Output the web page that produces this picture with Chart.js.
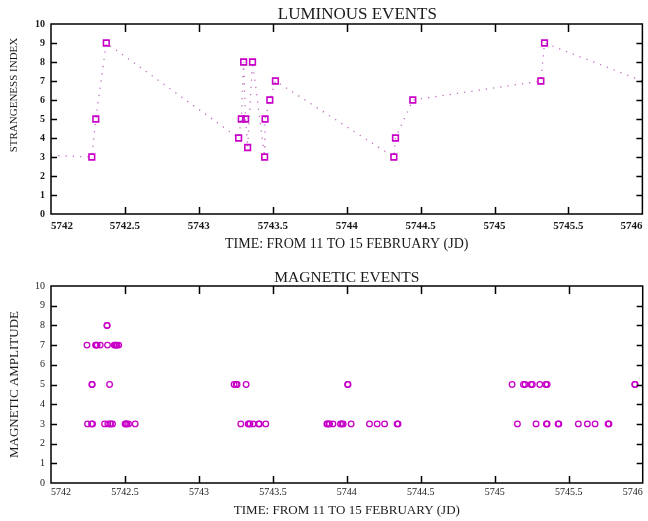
<!DOCTYPE html>
<html>
<head>
<meta charset="utf-8">
<script src="https://cdn.jsdelivr.net/npm/chart.js@4.4.1/dist/chart.umd.min.js"></script>
<style>
  html, body { margin: 0; padding: 0; background: #fff; }
  canvas { position: absolute; left: 0; }
  #lum { top: 0; }
  #mag { top: 262px; }
</style>
</head>
<body>
<canvas id="lum" width="648" height="262"></canvas>
<canvas id="mag" width="648" height="259"></canvas>
<script>
// luminous events (line runs in time order, first/last points sit just off the axis range)
const lumTimes = [5741.95, 5742.276, 5742.303, 5742.374, 5743.269, 5743.287, 5743.303, 5743.316, 5743.330, 5743.363,
  5743.445, 5743.448, 5743.480, 5743.518, 5744.319, 5744.330, 5744.447, 5745.313, 5745.338, 5746.05];
const lumIndex = [3.1, 3, 5, 9, 4, 5, 8, 5, 3.5, 8, 3, 5, 6, 7, 3, 4, 6, 7, 9, 6.85];

// magnetic events
const magTimes = [
  5742.378, 5742.380,
  5742.243, 5742.301, 5742.306, 5742.312, 5742.333, 5742.382, 5742.427, 5742.434, 5742.440, 5742.447, 5742.458,
  5742.276, 5742.279, 5742.396, 5743.238, 5743.252, 5743.258, 5743.319, 5744.005, 5744.008, 5745.117, 5745.194,
  5745.205, 5745.245, 5745.254, 5745.304, 5745.345, 5745.354, 5745.946, 5745.949,
  5742.247, 5742.274, 5742.281, 5742.362, 5742.384, 5742.400, 5742.404, 5742.416, 5742.501, 5742.507, 5742.512,
  5742.524, 5742.569, 5743.283, 5743.333, 5743.337, 5743.345, 5743.366, 5743.404, 5743.409, 5743.452, 5743.865,
  5743.869, 5743.879, 5743.883, 5743.906, 5743.957, 5743.966, 5743.975, 5744.029, 5744.153, 5744.205, 5744.255,
  5744.340, 5744.346, 5745.153, 5745.279, 5745.349, 5745.354, 5745.428, 5745.433, 5745.565, 5745.626, 5745.678,
  5745.766, 5745.772
];
const magAmps = [
  8, 8,
  7, 7, 7, 7, 7, 7, 7, 7, 7, 7, 7,
  5, 5, 5, 5, 5, 5, 5, 5, 5, 5, 5,
  5, 5, 5, 5, 5, 5, 5, 5,
  3, 3, 3, 3, 3, 3, 3, 3, 3, 3, 3,
  3, 3, 3, 3, 3, 3, 3, 3, 3, 3, 3,
  3, 3, 3, 3, 3, 3, 3, 3, 3, 3, 3,
  3, 3, 3, 3, 3, 3, 3, 3, 3, 3, 3,
  3, 3
];

const xTitle = 'TIME: FROM 11 TO 15 FEBRUARY (JD)';
const SERIF = "'Liberation Serif', 'Times New Roman', serif";
const MAGENTA = '#c800c8';
const TEXT = '#1a1a1a';

// gnuplot-like frame with tick marks pointing inward
const innerTicks = {
  id: 'innerTicks',
  afterDatasetsDraw(chart, args, opts) {
    const { ctx, chartArea: a, scales: { x, y } } = chart;
    ctx.save();
    ctx.strokeStyle = '#000';
    ctx.lineWidth = 1.5;
    ctx.beginPath();
    x.ticks.forEach(t => {
      if (t.value <= x.min || t.value >= x.max) return;
      const px = Math.round(x.getPixelForValue(t.value)) + 0.5;
      ctx.moveTo(px, a.bottom); ctx.lineTo(px, a.bottom - opts.bottomLen);
      ctx.moveTo(px, a.top); ctx.lineTo(px, a.top + opts.topLen);
    });
    y.ticks.forEach(t => {
      if (t.value <= y.min || t.value >= y.max) return;
      const py = Math.round(y.getPixelForValue(t.value)) + 0.5;
      ctx.moveTo(a.left, py); ctx.lineTo(a.left + opts.sideLen, py);
      ctx.moveTo(a.right, py); ctx.lineTo(a.right - opts.sideLen, py);
    });
    ctx.stroke();
    ctx.strokeRect(a.left, a.top, a.width, a.height);
    ctx.restore();
  }
};

function makeOptions(cfg) {
  return {
    responsive: false,
    animation: false,
    devicePixelRatio: 1,
    layout: { padding: { left: 0, right: cfg.right, top: 0, bottom: 0 } },
    plugins: {
      legend: { display: false },
      tooltip: { enabled: false },
      title: {
        display: true,
        text: cfg.title,
        color: TEXT,
        fullSize: false,
        font: { family: SERIF, size: cfg.titleSize, weight: 'normal', lineHeight: 1 },
        padding: cfg.titlePad
      },
      innerTicks: { topLen: 8, bottomLen: 7, sideLen: 6 }
    },
    scales: {
      x: {
        type: 'linear',
        min: 5742,
        max: 5746,
        grid: { display: false, drawTicks: false },
        border: { display: false },
        ticks: {
          stepSize: 0.5,
          align: 'inner',
          maxRotation: 0,
          autoSkip: false,
          padding: cfg.xTickPad,
          color: TEXT,
          font: { family: SERIF, size: cfg.xTickSize, weight: cfg.tickWeight },
          callback: v => String(v)
        },
        title: {
          display: true,
          text: xTitle,
          color: TEXT,
          font: { family: SERIF, size: cfg.xTitleSize },
          padding: { top: 0, bottom: cfg.xTitlePad }
        },
        afterFit: s => { s.height = cfg.xHeight; s.paddingLeft = 0; s.paddingRight = 0; }
      },
      y: {
        min: 0,
        max: 10,
        grid: { display: false, drawTicks: false },
        border: { display: false },
        ticks: {
          stepSize: 1,
          padding: 6,
          color: TEXT,
          font: { family: SERIF, size: 10, weight: cfg.tickWeight }
        },
        title: {
          display: true,
          text: cfg.yTitle,
          align: cfg.yAlign,
          color: TEXT,
          font: { family: SERIF, size: cfg.yTitleSize },
          padding: { top: cfg.yTitlePad, bottom: 0 }
        },
        afterFit: s => { s.width = 51; s.paddingTop = 0; s.paddingBottom = 0; }
      }
    }
  };
}

new Chart(document.getElementById('lum'), {
  type: 'line',
  data: {
    datasets: [{
      data: lumTimes.map((t, i) => ({ x: t, y: lumIndex[i] })),
      borderColor: 'rgba(180, 90, 180, 0.85)',
      borderWidth: 1.3,
      borderDash: [1.3, 6],
      tension: 0,
      pointStyle: 'rect',
      pointRadius: 4,
      pointBorderWidth: 1.6,
      pointBorderColor: MAGENTA,
      pointBackgroundColor: 'rgba(255,255,255,0)'
    }]
  },
  options: makeOptions({
    title: '     LUMINOUS EVENTS', titleSize: 17, titlePad: { top: 6, bottom: 1 },
    right: 3, xHeight: 48, xTickPad: 6, xTickSize: 11, tickWeight: 'bold',
    xTitleSize: 14, xTitlePad: 9,
    yTitle: 'STRANGENESS INDEX     ', yAlign: 'end', yTitleSize: 11, yTitlePad: 8
  }),
  plugins: [innerTicks]
});

new Chart(document.getElementById('mag'), {
  type: 'scatter',
  data: {
    datasets: [{
      data: magTimes.map((t, i) => ({ x: t, y: magAmps[i] })),
      showLine: false,
      pointStyle: 'circle',
      pointRadius: 2.8,
      pointBorderWidth: 1.3,
      pointBorderColor: MAGENTA,
      pointBackgroundColor: 'rgba(255,255,255,0)'
    }]
  },
  options: makeOptions({
    title: 'MAGNETIC EVENTS', titleSize: 15.5, titlePad: { top: 8, bottom: 0.5 },
    right: 4, xHeight: 38, xTickPad: 3, xTickSize: 10, tickWeight: 'normal',
    xTitleSize: 13, xTitlePad: 3,
    yTitle: 'MAGNETIC AMPLITUDE', yAlign: 'center', yTitleSize: 13, yTitlePad: 7
  }),
  plugins: [innerTicks]
});
</script>
</body>
</html>
